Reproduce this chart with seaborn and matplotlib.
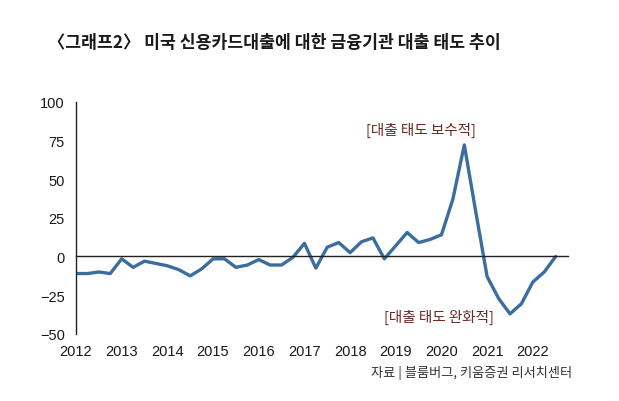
import numpy as np
import pandas as pd
import seaborn as sns
import matplotlib.pyplot as plt

# quarterly net % of banks tightening standards on credit card loans, 2012Q1 - 2022Q3
years = list(range(2012, 2023))
values = [
    -11, -11, -10, -11,
    -1.5, -7, -3, -4.5,
    -6, -8.5, -12.5, -8,
    -1.5, -1.5, -7, -5.5,
    -2, -5.5, -5.5, -0.5,
    8.5, -7.5, 6, 9,
    2.5, 9.5, 12, -1.5,
    7, 15.5, 9, 11,
    14, 37, 72, 29,
    -13, -27, -37, -30.5,
    -16.5, -10, 0,
]
y_ticks = [-50, -25, 0, 25, 50, 75, 100]

title = '〈그래프2〉 미국 신용카드대출에 대한 금융기관 대출 태도 추이'
note_tight = '[대출 태도 보수적]'
note_easy = '[대출 태도 완화적]'
source = '자료 | 블룸버그, 키움증권 리서치센터'

df = pd.DataFrame({'t': 2012 + np.arange(len(values)) * 0.25, 'v': values})

sns.set_style('white')
plt.rcParams['font.family'] = ['Liberation Sans', 'Noto Sans CJK KR', 'DejaVu Sans']
plt.rcParams['axes.unicode_minus'] = True

fig = plt.figure(figsize=(6.19, 4.02), dpi=100)
ax = fig.add_axes([0.1228, 0.1667, 0.7948, 0.5783])

sns.lineplot(data=df, x='t', y='v', ax=ax, color='#3b6e9e', linewidth=2.4)

ax.set_xlim(2012, 2022.77)
ax.set_ylim(-50, 100)
ax.set_xlabel('')
ax.set_ylabel('')

ax.spines['top'].set_visible(False)
ax.spines['right'].set_visible(False)
ax.spines['left'].set_color('#222222')
ax.spines['left'].set_linewidth(1.0)
ax.spines['bottom'].set_position(('data', 0))
ax.spines['bottom'].set_color('#222222')
ax.spines['bottom'].set_linewidth(1.0)

ax.set_yticks(y_ticks)
ax.set_yticklabels([str(v).replace('-', '\u2212') for v in y_ticks])
ax.set_xticks(years)
ax.set_xticklabels([str(y) for y in years])
ax.tick_params(axis='y', direction='out', length=5, width=1, color='#222222',
               labelsize=10.5, pad=3, labelcolor='#1a1a1a')
ax.tick_params(axis='x', direction='out', length=5, width=1, color='#222222',
               labelsize=10.5, pad=58, labelcolor='#1a1a1a')
for lab in ax.get_xticklabels() + ax.get_yticklabels():
    lab.set_family(['Liberation Sans'])

ax.text(2019.56, 82, note_tight, ha='center', va='center', fontsize=10.5,
        color='#6a2a22', family=['Noto Sans CJK KR', 'DejaVu Sans'])
ax.text(2019.95, -38.7, note_easy, ha='center', va='center', fontsize=10.5,
        color='#6a2a22', family=['Noto Sans CJK KR', 'DejaVu Sans'])

fig.text(0.077, 0.893, title, ha='left', va='center', fontsize=12.4,
         fontweight='bold', color='#1a1a1a', family=['Noto Sans CJK KR', 'DejaVu Sans'])
fig.text(0.924, 0.072, source, ha='right', va='center', fontsize=9.5,
         color='#333333', family=['Noto Sans CJK KR', 'DejaVu Sans'])

fig.savefig('out.png', dpi=100)
